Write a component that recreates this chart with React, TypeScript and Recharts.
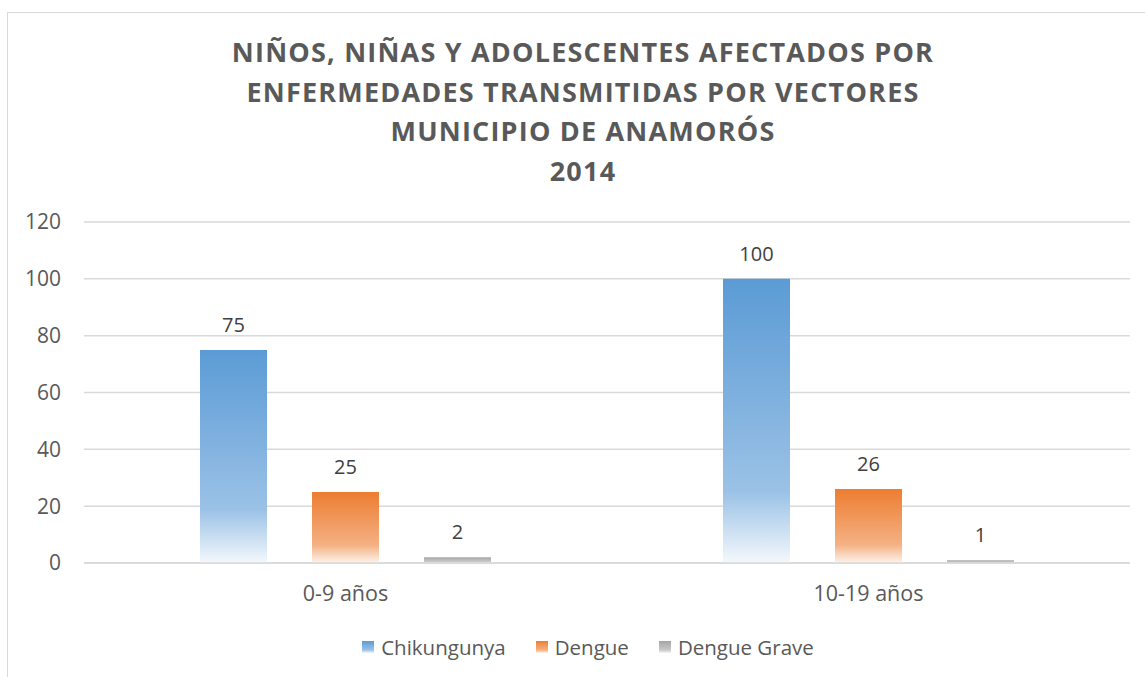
import { BarChart, Bar, XAxis, YAxis, CartesianGrid, Legend, LabelList } from "recharts";

const categories = ["0-9 años", "10-19 años"];
const chikungunya = [75, 100];
const dengue = [25, 26];
const dengueGrave = [2, 1];
const yTicks = [0, 20, 40, 60, 80, 100, 120];
const titleLines = [
  "NIÑOS, NIÑAS Y ADOLESCENTES AFECTADOS POR",
  "ENFERMEDADES TRANSMITIDAS POR VECTORES",
  "MUNICIPIO DE ANAMORÓS",
  "2014",
];

const data = categories.map((name, i) => ({
  name,
  chikungunya: chikungunya[i],
  dengue: dengue[i],
  dengueGrave: dengueGrave[i],
}));

const series = [
  { key: "chikungunya", label: "Chikungunya", grad: "gradBlue" },
  { key: "dengue", label: "Dengue", grad: "gradOrange" },
  { key: "dengueGrave", label: "Dengue Grave", grad: "gradGray" },
];

const font = "'Open Sans', sans-serif";

const LegendContent = () => (
  <div style={{ display: "flex", justifyContent: "center", gap: 30, height: 30, alignItems: "center", paddingLeft: 46, fontFamily: font, fontSize: 20.5, color: "#595959" }}>
    {series.map((s) => (
      <div key={s.key} style={{ display: "flex", alignItems: "center", gap: 7 }}>
        <svg width={12} height={12}>
          <rect width={12} height={12} fill={`url(#${s.grad})`} />
        </svg>
        <span>{s.label}</span>
      </div>
    ))}
  </div>
);

const App = () => {
  return (
    <div style={{ position: "absolute", left: 0, top: 0, width: 1145, height: 677, background: "#fff" }}>
      <div style={{ position: "absolute", left: 7, top: 12, width: 1145, height: 700, borderLeft: "1px solid #d9d9d9", borderTop: "1px solid #d9d9d9" }} />
      <div style={{ position: "absolute", left: 0, top: 32, width: 1166, textAlign: "center", fontFamily: font, fontWeight: 700, fontSize: 27, letterSpacing: 1.2, lineHeight: "39.5px", color: "#595959" }}>
        {titleLines.map((t) => (
          <div key={t}>{t}</div>
        ))}
      </div>
      <div style={{ position: "absolute", left: 0, top: 0 }}>
        <BarChart
          width={1145}
          height={677}
          data={data}
          margin={{ top: 222, right: 15, bottom: 15, left: 0 }}
          barSize={67}
          barGap={45}
        >
          <defs>
            <linearGradient id="gradBlue" x1="0" y1="0" x2="0" y2="1">
              <stop offset="0" stopColor="#5b9bd5" />
              <stop offset="0.75" stopColor="#9bc2e6" />
              <stop offset="1" stopColor="#f4f8fc" />
            </linearGradient>
            <linearGradient id="gradOrange" x1="0" y1="0" x2="0" y2="1">
              <stop offset="0" stopColor="#ed7d31" />
              <stop offset="0.75" stopColor="#f4b183" />
              <stop offset="1" stopColor="#fdf3ec" />
            </linearGradient>
            <linearGradient id="gradGray" x1="0" y1="0" x2="0" y2="1">
              <stop offset="0" stopColor="#a5a5a5" />
              <stop offset="0.75" stopColor="#c9c9c9" />
              <stop offset="1" stopColor="#f6f6f6" />
            </linearGradient>
          </defs>
          <CartesianGrid vertical={false} stroke="#d9d9d9" strokeWidth={1.5} />
          <XAxis
            dataKey="name"
            height={69}
            tickLine={false}
            axisLine={{ stroke: "#d9d9d9", strokeWidth: 1.5 }}
            tick={{ fill: "#595959", fontSize: 21.5, fontFamily: font }}
            tickMargin={17}
          />
          <YAxis
            width={84}
            domain={[0, 120]}
            ticks={yTicks}
            tickLine={false}
            axisLine={false}
            tick={{ fill: "#595959", fontSize: 21, fontFamily: font }}
            tickMargin={17}
          />
          <Legend verticalAlign="bottom" content={<LegendContent />} />
          {series.map((s) => (
            <Bar key={s.key} dataKey={s.key} name={s.label} fill={`url(#${s.grad})`} isAnimationActive={false}>
              <LabelList dataKey={s.key} position="top" offset={18} fill="#404040" fontSize={20} fontFamily={font} />
            </Bar>
          ))}
        </BarChart>
      </div>
    </div>
  );
};

export default App;
